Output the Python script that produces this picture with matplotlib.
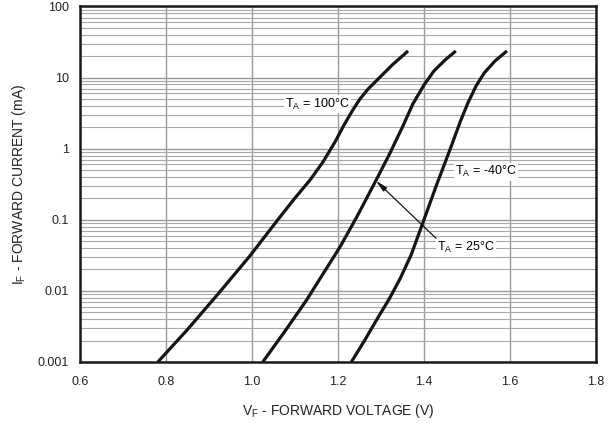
import numpy as np
import matplotlib
matplotlib.use("Agg")
import matplotlib.pyplot as plt
from matplotlib.ticker import FixedLocator, FixedFormatter, LogLocator

plt.rcParams['font.family'] = ['Liberation Sans', 'DejaVu Sans']
plt.rcParams['mathtext.fontset'] = 'custom'
plt.rcParams['mathtext.rm'] = 'Liberation Sans'

# forward voltage (V) and forward current (mA)
vf_100 = [0.781, 0.849, 0.921, 0.995, 1.065, 1.100, 1.135, 1.165, 1.193, 1.214,
          1.233, 1.251, 1.270, 1.291, 1.326, 1.363]
if_100 = [0.001, 0.00282, 0.00904, 0.0310, 0.1095, 0.2025, 0.363, 0.650, 1.242, 2.154,
          3.391, 5.0, 6.91, 9.25, 15.04, 23.7]

vf_25 = [1.025, 1.077, 1.127, 1.205, 1.244, 1.288, 1.321, 1.351, 1.374, 1.400,
         1.423, 1.449, 1.474]
if_25 = [0.001, 0.00273, 0.00745, 0.0419, 0.1106, 0.355, 0.870, 2.086, 4.25, 7.87,
         12.38, 17.68, 23.7]

vf_m40 = [1.231, 1.261, 1.291, 1.319, 1.344, 1.370, 1.398, 1.430, 1.461, 1.484,
          1.502, 1.521, 1.540, 1.565, 1.593]
if_m40 = [0.001, 0.00197, 0.00403, 0.00769, 0.0147, 0.0320, 0.0931, 0.319, 0.990, 2.375,
          4.39, 7.62, 11.61, 17.12, 23.7]

xticks = [0.6, 0.8, 1.0, 1.2, 1.4, 1.6, 1.8]
xlabels = ["0.6", "0.8", "1.0", "1.2", "1.4", "1.6", "1.8"]
yticks = [0.001, 0.01, 0.1, 1, 10, 100]
ylabels = ["0.001", "0.01", "0.1", "1", "10", "100"]

fig = plt.figure(figsize=(6.16, 4.23), dpi=100)
ax = fig.add_axes([80/616, 1-362/423, 516/616, 355.5/423])

ax.set_yscale("log")
ax.set_xlim(0.6, 1.8)
ax.set_ylim(0.001, 100)

# grid
ax.xaxis.set_major_locator(FixedLocator(xticks))
ax.xaxis.set_major_formatter(FixedFormatter(xlabels))
ax.yaxis.set_major_locator(FixedLocator(yticks))
ax.yaxis.set_major_formatter(FixedFormatter(ylabels))
ax.yaxis.set_minor_locator(LogLocator(base=10, subs=np.arange(2, 10)))
ax.yaxis.set_minor_formatter(FixedFormatter([]))
ax.grid(True, which="major", axis="both", color="#9a9a9a", lw=1.0)
ax.grid(True, which="minor", axis="y", color="#a8a8a8", lw=0.8)
ax.tick_params(which="both", length=0, labelsize=9, colors="#222222", pad=8)
ax.tick_params(axis="x", pad=10)

for s in ax.spines.values():
    s.set_linewidth(1.8)
    s.set_color("#1a1a1a")
    s.set_zorder(5)

for vf, cur in [(vf_100, if_100), (vf_25, if_25), (vf_m40, if_m40)]:
    ax.plot(vf, cur, color="#151515", lw=2.3, solid_capstyle="butt",
            solid_joinstyle="round", zorder=4)

box = dict(facecolor="white", edgecolor="none", pad=1.0)
ax.text(1.077, 4.25, r"T$_\mathregular{A}$ = 100°C", fontsize=9, va="center",
        ha="left", bbox=box, zorder=3)
ax.text(1.472, 0.475, r"T$_\mathregular{A}$ = -40°C", fontsize=9, va="center",
        ha="left", bbox=box, zorder=3)
ax.text(1.43, 0.0405, r"T$_\mathregular{A}$ = 25°C", fontsize=9, va="center",
        ha="left", bbox=box, zorder=3)
ax.annotate("", xy=(1.288, 0.355), xytext=(1.428, 0.055),
            arrowprops=dict(arrowstyle="-|>,head_length=0.7,head_width=0.15",
                            color="#151515", lw=0.9, shrinkA=0, shrinkB=0),
            zorder=3)

ax.set_xlabel(r"V$_\mathregular{F}$ - FORWARD VOLTAGE (V)", fontsize=10,
              color="#222222", labelpad=10)
ax.set_ylabel(r"I$_\mathregular{F}$ - FORWARD CURRENT (mA)", fontsize=10,
              color="#222222", labelpad=7)

fig.savefig("out.png", dpi=100)
